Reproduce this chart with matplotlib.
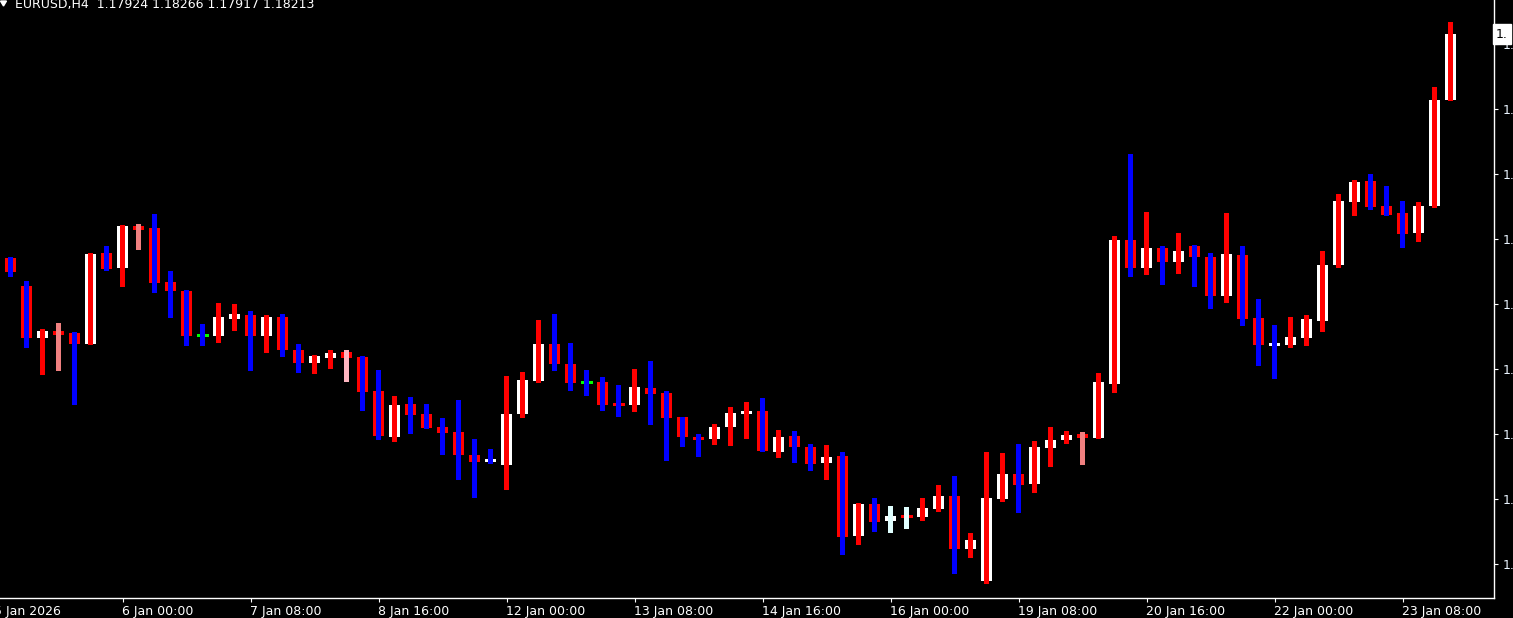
import matplotlib
matplotlib.use("Agg")
import matplotlib.pyplot as plt
import matplotlib.transforms as mtransforms
from matplotlib.patches import Polygon

# EURUSD H4 candles
opens = [1.17227, 1.17104, 1.16875, 1.16906, 1.16897, 1.16849, 1.17249, 1.17183, 1.17368, 1.17359,
         1.17122, 1.17082, 1.16889, 1.16884, 1.16959, 1.16977, 1.16884, 1.16968, 1.16823, 1.16765,
         1.16787, 1.16814, 1.16792, 1.16642, 1.16440, 1.16585, 1.16541, 1.16484, 1.16462, 1.16361,
         1.16330, 1.16317, 1.16541, 1.16686, 1.16849, 1.16761, 1.16682, 1.16682, 1.16585, 1.16581,
         1.16655, 1.16633, 1.16528, 1.16440, 1.16431, 1.16484, 1.16541, 1.16554, 1.16374, 1.16444,
         1.16396, 1.16325, 1.16356, 1.16004, 1.16145, 1.16070, 1.16092, 1.16088, 1.16123, 1.16180,
         1.15947, 1.15806, 1.16167, 1.16277, 1.16233, 1.16391, 1.16427, 1.16453, 1.16435, 1.16673,
         1.17307, 1.17183, 1.17271, 1.17210, 1.17280, 1.17232, 1.17060, 1.17241, 1.16963, 1.16840,
         1.16845, 1.16875, 1.16950, 1.17197, 1.17474, 1.17566, 1.17456, 1.17425, 1.17337, 1.17456,
         1.17924]
highs = [1.17232, 1.17126, 1.16915, 1.16941, 1.16902, 1.17249, 1.17280, 1.17373, 1.17377, 1.17421,
         1.17170, 1.17087, 1.16937, 1.17029, 1.17025, 1.16994, 1.16977, 1.16981, 1.16849, 1.16801,
         1.16823, 1.16823, 1.16796, 1.16735, 1.16620, 1.16616, 1.16585, 1.16523, 1.16603, 1.16431,
         1.16387, 1.16708, 1.16726, 1.16955, 1.16981, 1.16853, 1.16735, 1.16704, 1.16669, 1.16739,
         1.16774, 1.16642, 1.16528, 1.16453, 1.16497, 1.16572, 1.16594, 1.16611, 1.16471, 1.16466,
         1.16409, 1.16405, 1.16374, 1.16149, 1.16171, 1.16136, 1.16132, 1.16171, 1.16229, 1.16268,
         1.16017, 1.16374, 1.16369, 1.16409, 1.16422, 1.16484, 1.16466, 1.16462, 1.16721, 1.17324,
         1.17685, 1.17430, 1.17280, 1.17337, 1.17285, 1.17249, 1.17425, 1.17280, 1.17047, 1.16933,
         1.16968, 1.16977, 1.17258, 1.17509, 1.17571, 1.17597, 1.17544, 1.17478, 1.17474, 1.17980,
         1.18266]
lows = [1.17144, 1.16831, 1.16713, 1.16730, 1.16581, 1.16845, 1.17170, 1.17100, 1.17263, 1.17073,
        1.16963, 1.16840, 1.16840, 1.16853, 1.16906, 1.16730, 1.16809, 1.16792, 1.16721, 1.16717,
        1.16739, 1.16682, 1.16554, 1.16427, 1.16418, 1.16453, 1.16475, 1.16361, 1.16251, 1.16171,
        1.16321, 1.16207, 1.16523, 1.16677, 1.16730, 1.16642, 1.16620, 1.16554, 1.16528, 1.16550,
        1.16493, 1.16334, 1.16396, 1.16352, 1.16405, 1.16400, 1.16431, 1.16374, 1.16347, 1.16325,
        1.16290, 1.16251, 1.15921, 1.15965, 1.16022, 1.16017, 1.16035, 1.16070, 1.16110, 1.15837,
        1.15907, 1.15793, 1.16154, 1.16105, 1.16193, 1.16308, 1.16409, 1.16317, 1.16431, 1.16633,
        1.17144, 1.17153, 1.17109, 1.17157, 1.17100, 1.17003, 1.17029, 1.16928, 1.16752, 1.16695,
        1.16831, 1.16840, 1.16902, 1.17183, 1.17412, 1.17439, 1.17412, 1.17271, 1.17298, 1.17447,
        1.17917]
closes = [1.17166, 1.16875, 1.16906, 1.16889, 1.16849, 1.17245, 1.17179, 1.17368, 1.17351, 1.17117,
          1.17082, 1.16884, 1.16889, 1.16968, 1.16981, 1.16884, 1.16968, 1.16823, 1.16765, 1.16796,
          1.16809, 1.16787, 1.16638, 1.16444, 1.16581, 1.16537, 1.16479, 1.16457, 1.16361, 1.16330,
          1.16343, 1.16541, 1.16691, 1.16849, 1.16761, 1.16677, 1.16682, 1.16581, 1.16585, 1.16660,
          1.16629, 1.16523, 1.16440, 1.16427, 1.16484, 1.16545, 1.16554, 1.16378, 1.16440, 1.16396,
          1.16321, 1.16352, 1.16000, 1.16145, 1.16066, 1.16092, 1.16092, 1.16127, 1.16180, 1.15947,
          1.15987, 1.16171, 1.16277, 1.16229, 1.16396, 1.16427, 1.16449, 1.16435, 1.16682, 1.17307,
          1.17183, 1.17271, 1.17210, 1.17258, 1.17232, 1.17060, 1.17245, 1.16959, 1.16845, 1.16853,
          1.16880, 1.16959, 1.17197, 1.17478, 1.17562, 1.17452, 1.17417, 1.17333, 1.17456, 1.17923,
          1.18213]

# time axis: bar index of each label (the first one sits left of the window)
time_ticks = [-1, 7, 15, 23, 31, 39, 47, 55, 63, 71, 79, 87]
time_labels = ["5 Jan 2026", "6 Jan 00:00", "7 Jan 08:00", "8 Jan 16:00", "12 Jan 00:00",
               "13 Jan 08:00", "14 Jan 16:00", "16 Jan 00:00", "19 Jan 08:00", "20 Jan 16:00",
               "22 Jan 00:00", "23 Jan 08:00"]

# price scale (labels are cut off by the narrow window)
price_ticks = [1.18169, 1.17883, 1.17597, 1.17311, 1.17025, 1.16739, 1.16453, 1.16167, 1.15881]
price_labels = ["1."] * len(price_ticks)

header = "EURUSD,H4  1.17924 1.18266 1.17917 1.18213"

# colours
BULL_BODY, BULL_WICK = "#FFFFFF", "#FF0000"
BEAR_BODY, BEAR_WICK = "#FF0000", "#0000FF"
DOJI_BODY = "#00FF00"
# some bars get a different wick / doji colour on the chart
wick_colors = {3: "#F08080", 8: "#F08080", 21: "#FFB6C1", 67: "#F08080",
               30: "#0000FF", 79: "#0000FF", 55: "#E0FFFF", 56: "#E0FFFF"}
doji_colors = {38: "#FF0000", 56: "#FF0000"}

W, H, DPI = 1513, 618, 100
fig = plt.figure(figsize=(W / DPI, H / DPI), dpi=DPI, facecolor="black")
ax = fig.add_axes([0, 20 / H, 1494 / W, 598 / H])
ax.set_facecolor("black")

px = 1 / 16  # one screen pixel in bar units
body_w = 11 * px
wick_w = 5 * px

for i in range(len(opens)):
    o, h, l, c = opens[i], highs[i], lows[i], closes[i]
    if c > o:
        body, wick = BULL_BODY, BULL_WICK
    elif c < o:
        body, wick = BEAR_BODY, BEAR_WICK
    else:
        body, wick = doji_colors.get(i, DOJI_BODY), BEAR_WICK
    wick = wick_colors.get(i, wick)
    if c != o:
        ax.bar(i, abs(c - o), width=body_w, bottom=min(o, c), color=body,
               linewidth=0, antialiased=False, zorder=2)
    else:
        ax.hlines(o, i - body_w / 2, i + body_w / 2, color=body, linewidth=1.0,
                  antialiased=False, zorder=2)
    ax.bar(i, h - l, width=wick_w, bottom=l, color=wick,
           linewidth=0, antialiased=False, zorder=3)

for s in ["left", "top"]:
    ax.spines[s].set_visible(False)
for s in ["right", "bottom"]:
    ax.spines[s].set_color("white")
    ax.spines[s].set_linewidth(1.0)

# time labels: the first one is only half inside the window, so draw it by hand
ax.set_xticks(time_ticks[1:], time_labels[1:])
for t in ax.get_xticklabels():
    t.set_ha("left")
ax.tick_params(axis="x", colors="white", length=3, width=0.8, pad=2, labelsize=9)
ax.annotate(time_labels[0], xy=(time_ticks[0], 0), xycoords=("data", "axes fraction"),
            xytext=(0, -5), textcoords="offset points", ha="left", va="top",
            color="white", fontsize=9, annotation_clip=False)

ax.yaxis.tick_right()
ax.set_yticks(price_ticks, price_labels)
ax.tick_params(axis="y", colors="white", length=3, width=0.8, pad=3, labelsize=9)
for t in ax.get_yticklabels():
    t.set_color("#EAF4FF")

ax.set_xlim(-10.5 * px, (1494 - 10.5) * px)
ax.set_ylim(1.15731, 1.18363)

# current price marker on the scale
trans = mtransforms.blended_transform_factory(ax.transAxes, ax.transData)
ax.text(1.0013, closes[-1], "1.", transform=trans, ha="left", va="center",
        fontsize=9, color="black", clip_on=False,
        bbox=dict(boxstyle="square,pad=0.25", fc="white", ec="white"))

# header line
fig.text(15 / W, 1 - 4.5 / H, header, color="white", fontsize=9, ha="left", va="center")
fig.patches.append(Polygon([[0.5 / W, 1 - 1 / H], [6.5 / W, 1 - 1 / H], [3.5 / W, 1 - 6 / H]],
                           closed=True, transform=fig.transFigure, color="white"))

fig.savefig("out.png", dpi=DPI, facecolor="black")
